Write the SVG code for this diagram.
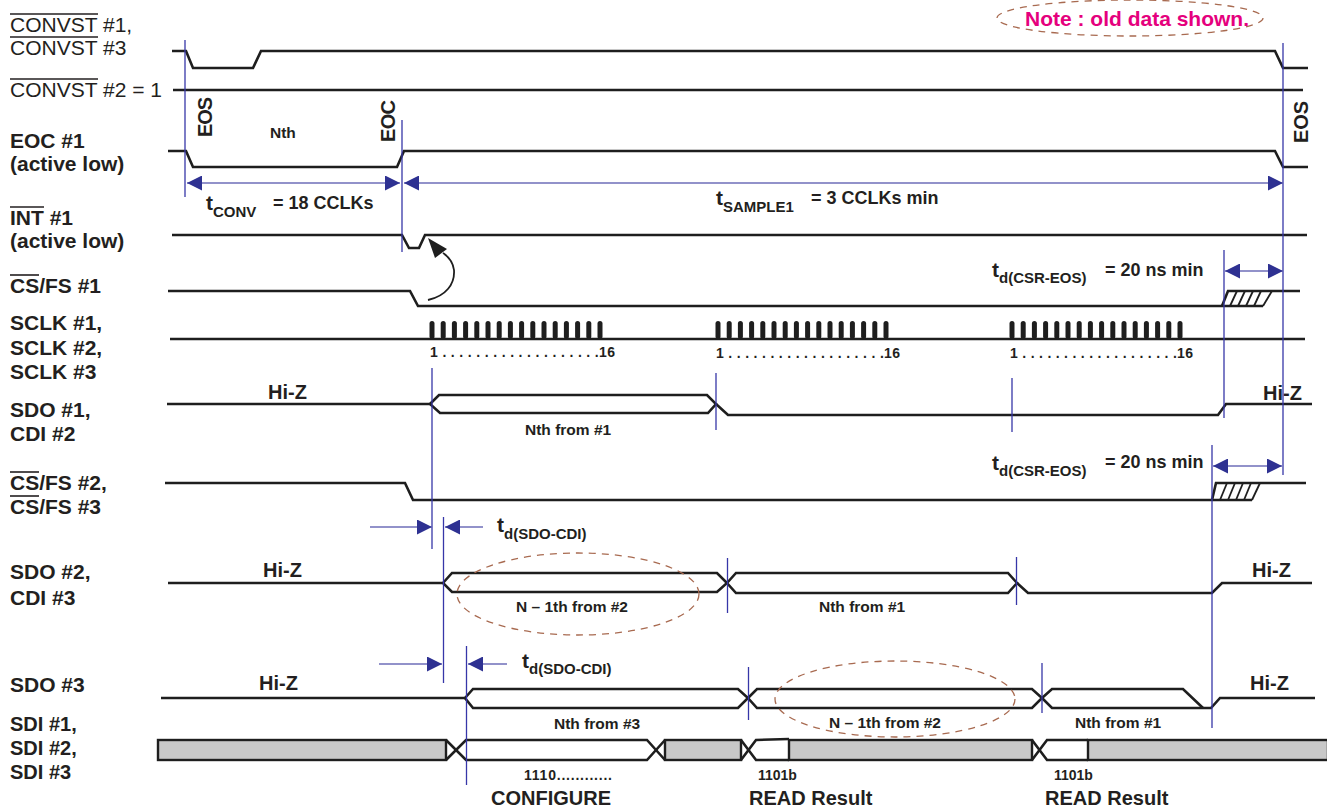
<svg xmlns="http://www.w3.org/2000/svg" xmlns:xlink="http://www.w3.org/1999/xlink" width="1327" height="811" viewBox="0 0 1327 811">
<style>
.sig{fill:none;stroke:#1e1e1e;stroke-width:2.6;stroke-linejoin:miter}
.thin{fill:none;stroke:#1e1e1e;stroke-width:1.8}
.gray{fill:#c8c8c8;stroke:#1e1e1e;stroke-width:2.4}
.vb{stroke:#3636a8;stroke-width:1.3;fill:none}
.al{stroke:#6e6eb8;stroke-width:1.6;fill:none}
.ell{fill:none;stroke:#a86a50;stroke-width:1.3;stroke-dasharray:7 6}
text{font-family:"Liberation Sans",Arial,Helvetica,sans-serif;fill:#231f20}
.lb{font-weight:bold;font-size:21px}
.ls{font-weight:bold;font-size:20px}
.lr{font-size:21px}
.hz{font-weight:bold;font-size:20px}
.bl{font-weight:bold;font-size:15.5px}
.sm{font-weight:bold;font-size:14px}
.big{font-weight:bold;font-size:20px}
.t{font-weight:bold;font-size:21px}
.sub{font-weight:bold;font-size:15px}
.eq{font-weight:bold;font-size:18px}
.note{font-weight:bold;font-size:21px;fill:#e5007d}
.ol{stroke:#231f20;stroke-width:1.6}
</style>
<defs>
<marker id="ah" markerUnits="userSpaceOnUse" markerWidth="15" markerHeight="15" refX="15" refY="7.5" orient="auto-start-reverse" viewBox="0 0 15 15">
<path d="M0,0 L15,7.5 L0,15 Z" fill="#2e3192"/>
</marker>
<g id="burst">
<rect x="-2.5" y="321" width="5" height="18" rx="2.5"/>
<rect x="8.7" y="321" width="5" height="18" rx="2.5"/>
<rect x="19.9" y="321" width="5" height="18" rx="2.5"/>
<rect x="31.1" y="321" width="5" height="18" rx="2.5"/>
<rect x="42.3" y="321" width="5" height="18" rx="2.5"/>
<rect x="53.5" y="321" width="5" height="18" rx="2.5"/>
<rect x="64.7" y="321" width="5" height="18" rx="2.5"/>
<rect x="75.9" y="321" width="5" height="18" rx="2.5"/>
<rect x="87.1" y="321" width="5" height="18" rx="2.5"/>
<rect x="98.3" y="321" width="5" height="18" rx="2.5"/>
<rect x="109.5" y="321" width="5" height="18" rx="2.5"/>
<rect x="120.7" y="321" width="5" height="18" rx="2.5"/>
<rect x="131.9" y="321" width="5" height="18" rx="2.5"/>
<rect x="143.1" y="321" width="5" height="18" rx="2.5"/>
<rect x="154.3" y="321" width="5" height="18" rx="2.5"/>
<rect x="165.5" y="321" width="5" height="18" rx="2.5"/>
</g>
</defs>
<rect width="1327" height="811" fill="#ffffff"/>

<g id="note">
<ellipse class="ell" cx="1130" cy="18" rx="133" ry="18"/>
<text class="note" x="1025" y="26">Note : old data shown.</text>
</g>

<g id="convst13">
<text class="lr" x="10" y="32">CONVST #1,</text>
<text class="lr" x="10" y="55">CONVST #3</text>
<line class="ol" x1="10" y1="14" x2="98" y2="14"/>
<line class="ol" x1="10" y1="37" x2="98" y2="37"/>
<polyline class="sig" points="172,51 186,51 193,68 253,68 261,51 1275,51 1283,68 1308,68"/>
</g>

<g id="convst2">
<text class="lr" x="10" y="97">CONVST #2 = 1</text>
<line class="ol" x1="10" y1="79" x2="98" y2="79"/>
<line class="sig" x1="173" y1="90" x2="1303" y2="90"/>
</g>

<g id="eoc1">
<text class="lb" x="10" y="148">EOC #1</text>
<text class="lb" x="10" y="171">(active low)</text>
<polyline class="sig" points="168,151 186,151 193,167 397,167 404,151 1275,151 1283,167 1308,167"/>
<text class="big" transform="translate(212,137) rotate(-90)" textLength="40">EOS</text>
<text class="bl" x="270" y="138">Nth</text>
<text class="big" transform="translate(395,142) rotate(-90)" textLength="42">EOC</text>
<text class="big" transform="translate(1308,143) rotate(-90)" textLength="42">EOS</text>
</g>

<g id="int1">
<text class="lb" x="10" y="225">INT #1</text>
<text class="lb" x="10" y="248">(active low)</text>
<line class="ol" x1="10" y1="207" x2="44" y2="207"/>
<polyline class="sig" points="172,235 402,235 409,248 419,248 425,235 1307,235"/>
</g>

<g id="csfs1">
<text class="lb" x="10" y="293">CS/FS #1</text>
<line class="ol" x1="10" y1="275" x2="39" y2="275"/>
<polyline class="sig" points="168,291 410,291 418,306 1263,306"/>
<polyline class="sig" points="1222,306 1228,291 1300,291"/>
<line class="thin" x1="1263" y1="306" x2="1272" y2="291"/>
<line class="thin" x1="1230" y1="306" x2="1237" y2="291"/>
<line class="thin" x1="1238" y1="306" x2="1245" y2="291"/>
<line class="thin" x1="1246" y1="306" x2="1253" y2="291"/>
<line class="thin" x1="1254" y1="306" x2="1261" y2="291"/>
</g>

<g id="sclk">
<text class="lb" x="10" y="330">SCLK #1,</text>
<text class="lb" x="10" y="355">SCLK #2,</text>
<text class="lb" x="10" y="379">SCLK #3</text>
<line class="sig" x1="170" y1="339" x2="1305" y2="339"/>
<g fill="#1e1e1e">
<use xlink:href="#burst" x="432"/>
<use xlink:href="#burst" x="718"/>
<use xlink:href="#burst" x="1012"/>
</g>
<text class="sm" x="430" y="357" textLength="185" lengthAdjust="spacing">1 . . . . . . . . . . . . . . . . . . .16</text>
<text class="sm" x="716" y="358" textLength="184" lengthAdjust="spacing">1 . . . . . . . . . . . . . . . . . . .16</text>
<text class="sm" x="1010" y="358" textLength="183" lengthAdjust="spacing">1 . . . . . . . . . . . . . . . . . . .16</text>
</g>

<g id="sdo1">
<text class="lb" x="10" y="417">SDO #1,</text>
<text class="lb" x="10" y="441">CDI #2</text>
<polyline class="sig" points="167,404 430,404"/>
<polygon class="sig" points="430,404 439,395 707,395 716,404 708,413 440,413"/>
<polyline class="sig" points="716,404 728,415 1218,415 1226,404 1312,404"/>
<text class="hz" x="268" y="399">Hi-Z</text>
<text class="hz" x="1263" y="400">Hi-Z</text>
<text class="bl" x="525" y="435">Nth from #1</text>
</g>

<g id="csfs23">
<text class="lb" x="10" y="490">CS/FS #2,</text>
<text class="lb" x="10" y="514">CS/FS #3</text>
<line class="ol" x1="10" y1="472" x2="39" y2="472"/>
<line class="ol" x1="10" y1="496" x2="39" y2="496"/>
<polyline class="sig" points="165,483 405,483 413,500 1252,500"/>
<polyline class="sig" points="1212,500 1216,483 1306,483"/>
<line class="thin" x1="1252" y1="500" x2="1260" y2="483"/>
<line class="thin" x1="1220" y1="500" x2="1227" y2="483"/>
<line class="thin" x1="1228" y1="500" x2="1235" y2="483"/>
<line class="thin" x1="1236" y1="500" x2="1243" y2="483"/>
<line class="thin" x1="1244" y1="500" x2="1251" y2="483"/>
</g>

<g id="sdo2">
<text class="lb" x="10" y="579">SDO #2,</text>
<text class="lb" x="10" y="605">CDI #3</text>
<polyline class="sig" points="168,583 443,583"/>
<polygon class="sig" points="443,583 452,573 717,573 727,583 717,592 452,592"/>
<polygon class="sig" points="727,583 736,573 1008,573 1017,583 1008,593 736,593"/>
<polyline class="sig" points="1017,583 1028,593 1212,593 1222,583 1312,583"/>
<text class="hz" x="263" y="577">Hi-Z</text>
<text class="hz" x="1252" y="577">Hi-Z</text>
<text class="bl" x="516" y="612">N – 1th from #2</text>
<text class="bl" x="819" y="612">Nth from #1</text>
<ellipse class="ell" cx="578" cy="594" rx="121" ry="41"/>
</g>

<g id="sdo3">
<text class="lb" x="10" y="692">SDO #3</text>
<polyline class="sig" points="161,698 465,698"/>
<polygon class="sig" points="465,698 473,689 738,689 748,698 738,708 473,708"/>
<polygon class="sig" points="748,698 757,689 1032,689 1042,698 1032,708 757,708"/>
<polyline class="sig" points="1042,698 1052,689 1183,689 1203,708"/>
<polyline class="sig" points="1042,698 1052,708 1211,708 1220,698 1315,698"/>
<text class="hz" x="259" y="690">Hi-Z</text>
<text class="hz" x="1250" y="690">Hi-Z</text>
<text class="bl" x="554" y="729">Nth from #3</text>
<text class="bl" x="829" y="728">N – 1th from #2</text>
<text class="bl" x="1075" y="728">Nth from #1</text>
<ellipse class="ell" cx="895" cy="699" rx="120" ry="38"/>
</g>

<g id="sdi">
<text class="ls" x="10" y="731">SDI #1,</text>
<text class="ls" x="10" y="755">SDI #2,</text>
<text class="ls" x="10" y="779">SDI #3</text>
<rect class="gray" x="158" y="740" width="288" height="20"/>
<polyline class="sig" points="446,740 466,760 647,760 665,740"/>
<polyline class="sig" points="446,760 466,740 647,740 665,760"/>
<rect class="gray" x="665" y="740" width="76" height="20"/>
<polyline class="sig" points="741,740 756,760 789,760"/>
<polyline class="sig" points="741,760 756,740 789,739"/>
<rect class="gray" x="789" y="740" width="243" height="20"/>
<polyline class="sig" points="1032,740 1047,760 1088,760"/>
<polyline class="sig" points="1032,760 1047,740 1088,740"/>
<rect class="gray" x="1088" y="740" width="240" height="20"/>
<text class="sm" x="524" y="780" textLength="88" lengthAdjust="spacing">1110............</text>
<text class="big" x="491" y="805">CONFIGURE</text>
<text class="sm" x="758" y="780">1101b</text>
<text class="big" x="749" y="805">READ Result</text>
<text class="sm" x="1054" y="780">1101b</text>
<text class="big" x="1045" y="805">READ Result</text>
</g>

<g id="connectors">
<line class="vb" x1="185" y1="40" x2="185" y2="197"/>
<line class="vb" x1="402" y1="120" x2="402" y2="252"/>
<line class="vb" x1="1283" y1="43" x2="1283" y2="475"/>
<line class="vb" x1="1224" y1="250" x2="1224" y2="418"/>
<line class="vb" x1="432" y1="368" x2="432" y2="549"/>
<line class="vb" x1="716" y1="373" x2="716" y2="430"/>
<line class="vb" x1="1012" y1="378" x2="1012" y2="432"/>
<line class="vb" x1="1212" y1="445" x2="1212" y2="728"/>
<line class="vb" x1="443.5" y1="517" x2="443.5" y2="683"/>
<line class="vb" x1="727.5" y1="558" x2="727.5" y2="613"/>
<line class="vb" x1="1016.5" y1="557" x2="1016.5" y2="605"/>
<line class="vb" x1="466.5" y1="646" x2="466.5" y2="785"/>
<line class="vb" x1="748.5" y1="667" x2="748.5" y2="720"/>
<line class="vb" x1="1042" y1="663" x2="1042" y2="713"/>

<line class="al" x1="187" y1="183" x2="400" y2="183" marker-start="url(#ah)" marker-end="url(#ah)"/>
<line class="al" x1="404" y1="183" x2="1283" y2="183" marker-start="url(#ah)" marker-end="url(#ah)"/>
<line class="al" x1="1225" y1="271" x2="1283" y2="271" marker-start="url(#ah)" marker-end="url(#ah)"/>
<line class="al" x1="1213" y1="466" x2="1282" y2="466" marker-start="url(#ah)" marker-end="url(#ah)"/>
<line class="al" x1="370" y1="527" x2="432" y2="527" marker-end="url(#ah)"/>
<line class="al" x1="483" y1="527" x2="445" y2="527" marker-end="url(#ah)"/>
<line class="al" x1="379" y1="664" x2="442" y2="664" marker-end="url(#ah)"/>
<line class="al" x1="507" y1="664" x2="468" y2="664" marker-end="url(#ah)"/>

<path class="thin" d="M428,300 C446,296 455,284 454,270 C453,262 449,257 443,253"/>
<polygon points="428,238 435,258 447,249" fill="#1e1e1e"/>

<text class="t" x="206" y="210">t<tspan class="sub" dy="7">CONV</tspan></text>
<text class="eq" x="273" y="209">= 18 CCLKs</text>
<text class="t" x="716" y="205">t<tspan class="sub" dy="7">SAMPLE1</tspan></text>
<text class="eq" x="811" y="204">= 3 CCLKs min</text>
<text class="t" x="992" y="277">t<tspan class="sub" dy="6" font-size="16px">d(CSR-EOS)</tspan></text>
<text class="eq" x="1105" y="276">= 20 ns min</text>
<text class="t" x="992" y="470">t<tspan class="sub" dy="6" font-size="16px">d(CSR-EOS)</tspan></text>
<text class="eq" x="1105" y="468">= 20 ns min</text>
<text class="t" x="497" y="532">t<tspan class="sub" dy="7">d(SDO-CDI)</tspan></text>
<text class="t" x="522" y="668">t<tspan class="sub" dy="6">d(SDO-CDI)</tspan></text>
</g>
</svg>
